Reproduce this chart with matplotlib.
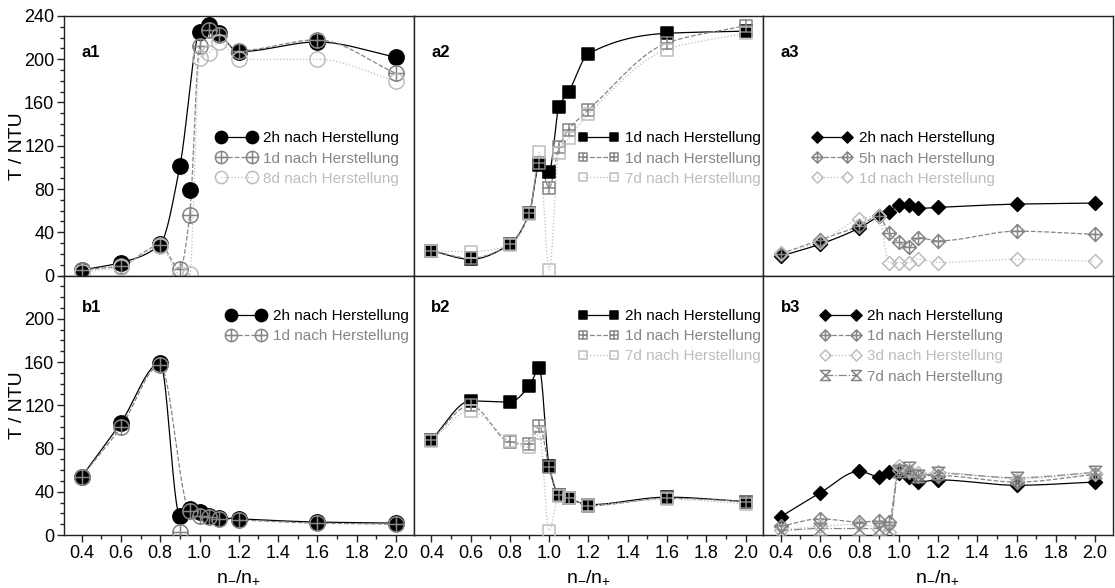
import numpy as np
import matplotlib
matplotlib.use('Agg')
import matplotlib.pyplot as plt
from matplotlib.path import Path
from matplotlib.ticker import MultipleLocator

plt.rcParams['font.family'] = ['Liberation Sans', 'DejaVu Sans']
plt.rcParams['mathtext.fontset'] = 'custom'
plt.rcParams['mathtext.rm'] = 'Liberation Sans'
plt.rcParams['mathtext.it'] = 'Liberation Sans'

# ---------------- data ----------------
x_ratio = [0.4, 0.6, 0.8, 0.9, 0.95, 1.0, 1.05, 1.1, 1.2, 1.6, 2.0]

a1_2h = [5, 12, 29, 101, 79, 225, 232, 224, 207, 216, 202]
a1_1d = [5, 9, 28, 6, 56, 212, 227, 222, 208, 218, 187]
a1_8d = [3, 8, 27, 1, 1, 201, 206, 216, 200, 200, 180]

a2_1d_a = [23, 15, 29, 58, 102, 96, 156, 170, 205, 224, 226]
a2_1d_b = [23, 16, 29, 58, 104, 81, 119, 135, 153, 215, 231]
a2_7d = [23, 22, 28, 57, 114, 5, 113, 127, 149, 209, 224]

a3_2h = [18, 29, 44, 55, 59, 65, 65, 62, 63, 66, 67]
a3_5h = [20, 33, 46, 55, 39, 31, 26, 35, 32, 41, 38]
a3_1d = [21, 31, 52, 55, 12, 12, 12, 15, 12, 15, 13]

b1_2h = [54, 104, 159, 18, 24, 21, 18, 16, 15, 12, 11]
b1_1d = [54, 100, 157, 3, 22, 18, 17, 15, 14, 11, 10]

b2_2h = [88, 124, 123, 138, 154, 64, 37, 34, 28, 35, 31]
b2_1d = [88, 120, 86, 84, 101, 63, 37, 34, 27, 34, 31]
b2_7d = [87, 115, 87, 81, 94, 4, 36, 34, 28, 33, 29]

b3_2h = [17, 39, 59, 54, 58, 57, 54, 49, 51, 46, 49]
b3_1d = [8, 15, 12, 13, 12, 60, 58, 55, 55, 49, 56]
b3_3d = [5, 8, 10, 6, 3, 64, 60, 57, 58, 52, 57]
b3_7d = [4, 6, 6, 6, 4, 59, 62, 55, 57, 53, 58]

# points the original smoothing curve ignored (outliers)
a1_curve_skip_2h = [0.95]
b1_curve_skip_1d = [0.9]

x_ticks = [0.4, 0.6, 0.8, 1.0, 1.2, 1.4, 1.6, 1.8, 2.0]
y_ticks_top = [0, 40, 80, 120, 160, 200, 240]
y_ticks_bottom = [0, 40, 80, 120, 160, 200]

# ---------------- markers ----------------
_plus = Path([(-1, 0), (1, 0), (0, -1), (0, 1)],
             [Path.MOVETO, Path.LINETO, Path.MOVETO, Path.LINETO])
_circle = Path.unit_circle()
_square = Path([(-1, -1), (1, -1), (1, 1), (-1, 1), (-1, -1)],
               [Path.MOVETO, Path.LINETO, Path.LINETO, Path.LINETO, Path.CLOSEPOLY])
_diamond = Path([(0, -1), (1, 0), (0, 1), (-1, 0), (0, -1)],
                [Path.MOVETO, Path.LINETO, Path.LINETO, Path.LINETO, Path.CLOSEPOLY])
_hourglass = Path([(-1, 1), (1, 1), (-1, -1), (1, -1), (-1, 1)],
                  [Path.MOVETO, Path.LINETO, Path.LINETO, Path.LINETO, Path.CLOSEPOLY])
circle_plus = Path.make_compound_path(_circle, _plus)
square_plus = Path.make_compound_path(_square, _plus)
diamond_plus = Path.make_compound_path(_diamond, _plus)

BLACK = '#000000'
GRAY = '#858585'
LIGHT = '#bdbdbd'


def pchip(xs, ys, xq):
    xs = np.asarray(xs, float)
    ys = np.asarray(ys, float)
    h = np.diff(xs)
    d = np.diff(ys) / h
    n = len(xs)
    m = np.zeros(n)
    for k in range(1, n - 1):
        if d[k - 1] * d[k] <= 0:
            m[k] = 0.0
        else:
            w1 = 2 * h[k] + h[k - 1]
            w2 = h[k] + 2 * h[k - 1]
            m[k] = (w1 + w2) / (w1 / d[k - 1] + w2 / d[k])
    m[0] = d[0]
    m[-1] = d[-1]
    idx = np.clip(np.searchsorted(xs, xq) - 1, 0, n - 2)
    t = (xq - xs[idx]) / h[idx]
    h00 = 2 * t**3 - 3 * t**2 + 1
    h10 = t**3 - 2 * t**2 + t
    h01 = -2 * t**3 + 3 * t**2
    h11 = t**3 - t**2
    return (h00 * ys[idx] + h10 * h[idx] * m[idx]
            + h01 * ys[idx + 1] + h11 * h[idx] * m[idx + 1])


def series(ax, xs, ys, color, ls, marker, filled, ms, label, skip=()):
    xs = np.asarray(xs, float)
    ys = np.asarray(ys, float)
    keep = np.array([not any(abs(v - s) < 1e-9 for s in skip) for v in xs])
    xq = np.linspace(xs.min(), xs.max(), 600)
    yq = pchip(xs[keep], ys[keep], xq)
    ax.plot(xq, yq, color=color, ls=ls, lw=0.9, zorder=2)
    ax.plot(xs, ys, ls='none', marker=marker, ms=ms,
            mfc=color if filled else 'none', mec=color, mew=1.1, zorder=3)
    h, = ax.plot([], [], color=color, ls=ls, lw=0.9, marker=marker, ms=ms,
                 mfc=color if filled else 'none', mec=color, mew=1.1)
    return h, label


fig, axes = plt.subplots(2, 3, figsize=(11.15, 5.88), dpi=100)
fig.subplots_adjust(left=0.0574, right=0.998, top=0.9728, bottom=0.0901,
                    wspace=0, hspace=0)


def add_legend(ax, items, anchor):
    hs = [i[0] for i in items]
    ls = [i[1] for i in items]
    leg = ax.legend(hs, ls, loc='upper left', bbox_to_anchor=anchor, frameon=False,
                    numpoints=2, handlelength=2.6, handletextpad=0.45,
                    labelspacing=0.4, fontsize=11, markerscale=0.8,
                    borderaxespad=0, borderpad=0)
    for txt, h in zip(leg.get_texts(), hs):
        txt.set_color(h.get_color())


# a1
ax = axes[0, 0]
it = [series(ax, x_ratio, a1_2h, BLACK, '-', 'o', True, 11, '2h nach Herstellung', a1_curve_skip_2h),
      series(ax, x_ratio, a1_1d, GRAY, '--', circle_plus, False, 11, '1d nach Herstellung'),
      series(ax, x_ratio, a1_8d, LIGHT, ':', 'o', False, 11, '8d nach Herstellung')]
add_legend(ax, it, (0.436, 0.555))

# a2
ax = axes[0, 1]
it = [series(ax, x_ratio, a2_1d_a, BLACK, '-', _square, True, 8, '1d nach Herstellung'),
      series(ax, x_ratio, a2_1d_b, GRAY, '--', square_plus, False, 8, '1d nach Herstellung'),
      series(ax, x_ratio, a2_7d, LIGHT, ':', _square, False, 8, '7d nach Herstellung')]
add_legend(ax, it, (0.472, 0.555))

# a3
ax = axes[0, 2]
it = [series(ax, x_ratio, a3_2h, BLACK, '-', _diamond, True, 10, '2h nach Herstellung'),
      series(ax, x_ratio, a3_5h, GRAY, '--', diamond_plus, False, 10, '5h nach Herstellung'),
      series(ax, x_ratio, a3_1d, LIGHT, ':', _diamond, False, 10, '1d nach Herstellung')]
add_legend(ax, it, (0.14, 0.555))

# b1
ax = axes[1, 0]
it = [series(ax, x_ratio, b1_2h, BLACK, '-', 'o', True, 11, '2h nach Herstellung'),
      series(ax, x_ratio, b1_1d, GRAY, '--', circle_plus, False, 11, '1d nach Herstellung', b1_curve_skip_1d)]
add_legend(ax, it, (0.464, 0.87))

# b2
ax = axes[1, 1]
it = [series(ax, x_ratio, b2_2h, BLACK, '-', _square, True, 8, '2h nach Herstellung'),
      series(ax, x_ratio, b2_1d, GRAY, '--', square_plus, False, 8, '1d nach Herstellung'),
      series(ax, x_ratio, b2_7d, LIGHT, ':', _square, False, 8, '7d nach Herstellung')]
add_legend(ax, it, (0.472, 0.87))

# b3
ax = axes[1, 2]
it = [series(ax, x_ratio, b3_2h, BLACK, '-', _diamond, True, 10, '2h nach Herstellung'),
      series(ax, x_ratio, b3_1d, GRAY, '--', diamond_plus, False, 10, '1d nach Herstellung'),
      series(ax, x_ratio, b3_3d, LIGHT, ':', _diamond, False, 10, '3d nach Herstellung'),
      series(ax, x_ratio, b3_7d, GRAY, '-.', _hourglass, False, 9, '7d nach Herstellung')]
add_legend(ax, it, (0.165, 0.87))

labels = [['a1', 'a2', 'a3'], ['b1', 'b2', 'b3']]
for r in range(2):
    for c in range(3):
        ax = axes[r, c]
        ax.set_xlim(0.31, 2.09)
        ax.set_ylim(0, 240)
        for s in ax.spines.values():
            s.set_linewidth(1.0)
            s.set_color('#222222')
        ax.text(0.05, 0.86 if r == 0 else 0.875, labels[r][c], transform=ax.transAxes,
                fontsize=12, fontweight='bold', va='center', ha='left')
        ax.tick_params(which='both', direction='out', color='#222222',
                       labelsize=13, width=1.0, pad=2)
        ax.tick_params(which='major', length=5)
        ax.tick_params(which='minor', length=3)
        if r == 1:
            ax.set_xticks(x_ticks)
            ax.set_xticklabels(['%.1f' % v for v in x_ticks])
            ax.xaxis.set_minor_locator(MultipleLocator(0.1))
            ax.set_xlabel(r'n$_{-}$/n$_{+}$', fontsize=14)
            ax.xaxis.set_label_coords(0.5, -0.128)
        else:
            ax.tick_params(axis='x', which='both', bottom=False, labelbottom=False)
        if c == 0:
            ax.set_yticks(y_ticks_top if r == 0 else y_ticks_bottom)
            ax.yaxis.set_minor_locator(MultipleLocator(10))
            ax.set_ylabel('T / NTU', fontsize=14)
            ax.yaxis.set_label_coords(-0.11, 0.5)
        else:
            ax.tick_params(axis='y', which='both', left=False, labelleft=False)

fig.savefig('out.png', dpi=100)
